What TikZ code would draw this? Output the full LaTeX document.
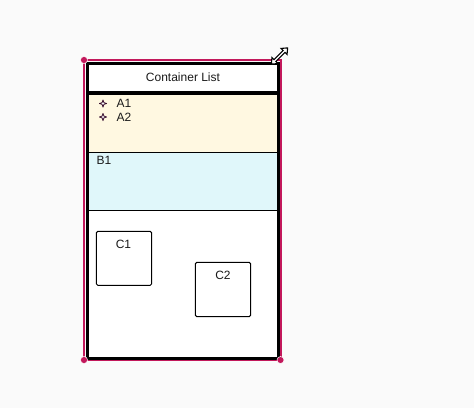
\documentclass[tikz,border=0pt]{standalone}
\usepackage{fontspec}
\setmainfont{Liberation Sans}
\usetikzlibrary{arrows.meta}
\definecolor{bg}{HTML}{FAFAFA}
\definecolor{selc}{HTML}{C2185B}
\definecolor{ayel}{HTML}{FFF8E1}
\definecolor{bblue}{HTML}{E0F7FA}
\definecolor{txt}{HTML}{1A1A1A}
\definecolor{bul}{HTML}{3A1030}
\tikzset{
  lbl/.style={font=\fontsize{12}{14}\selectfont, text=txt, inner sep=0pt},
  cbox/.style={draw=black, line width=1pt, rounded corners=1.5pt, fill=white},
  seldot/.style={circle, fill=selc, draw=white, line width=0.5pt, minimum size=7pt, inner sep=0pt},
}
\begin{document}
\begin{tikzpicture}[x=1pt,y=-1pt]
\fill[bg] (0,0) rectangle (474,408);
\useasboundingbox (0,0) rectangle (474,408);
% selection frame
\draw[selc, line width=2pt] (84,60) rectangle (280.5,360);
% container
\fill[white] (87.5,63.5) rectangle (278.5,358.5);
\fill[ayel] (87.5,93) rectangle (278.5,152.5);
\fill[bblue] (87.5,152.5) rectangle (278.5,210.5);
\draw[black, line width=1pt] (87.5,152.5) -- (278.5,152.5);
\draw[black, line width=1pt] (87.5,210.5) -- (278.5,210.5);
\draw[black, line width=3.5pt] (87.5,93) -- (278.5,93);
\draw[black, line width=3pt] (87.5,63.5) rectangle (278.5,358.5);
\node[lbl] (title) at (183,77.5) {Container List};
% items
\foreach \yy/\tt/\nm in {103.5/A1/a1, 117/A2/a2}{
  \draw[bul, line width=0.8pt, fill=white, line join=round]
    (103,\yy-3.6) -- (103.9,\yy-0.9) -- (106.6,\yy) -- (103.9,\yy+0.9) -- (103,\yy+3.6)
    -- (102.1,\yy+0.9) -- (99.4,\yy) -- (102.1,\yy-0.9) -- cycle;
  \node[lbl, anchor=west] (\nm) at (116.5,\yy) {\tt};
}
\node[lbl, anchor=west] (b1) at (96.5,160.5) {B1};
% C boxes
\draw[cbox] (96.3,231.3) rectangle (151.7,285.3);
\node[lbl] (c1) at (123.5,244.5) {C1};
\draw[cbox] (195.3,262.3) rectangle (250.7,316.7);
\node[lbl] (c2) at (223,275.5) {C2};
% selection dots
\node[seldot] (d1) at (84,60) {};
\node[seldot] (d2) at (84,360) {};
\node[seldot] (d3) at (280.5,360) {};
% resize handle
\begin{scope}[shift={(279.5,56)}, rotate=45]
\draw[black, fill=white, line width=1.1pt, line join=miter]
  (-11.5,0) -- (-6.5,4.2) -- (-6.5,1.3) -- (6.5,1.3) -- (6.5,4.2) -- (11.5,0)
  -- (6.5,-4.2) -- (6.5,-1.3) -- (-6.5,-1.3) -- (-6.5,-4.2) -- cycle;
\end{scope}
\end{tikzpicture}
\end{document}
